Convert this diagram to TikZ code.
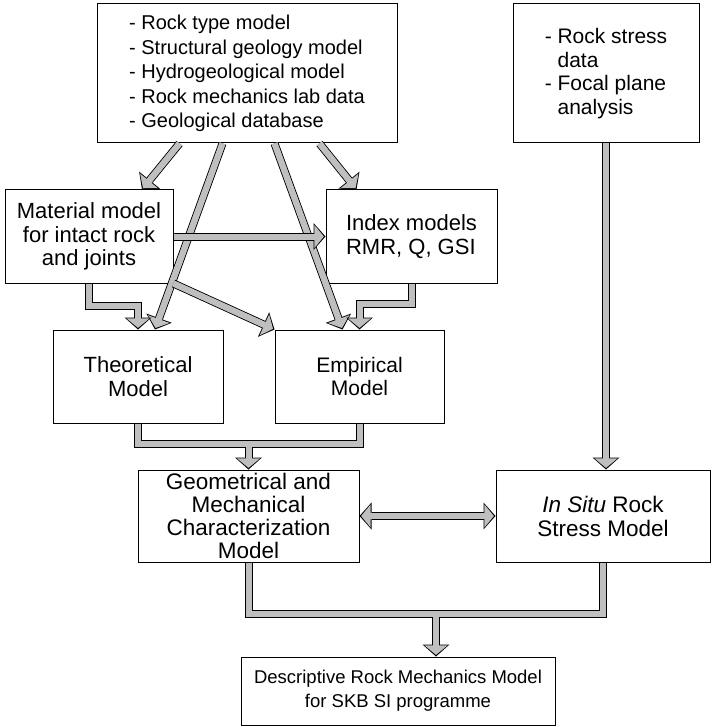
\documentclass[tikz,border=0pt]{standalone}
\usepackage{fontspec}
\setmainfont{Liberation Sans}
\usetikzlibrary{arrows.meta}
\definecolor{arrowgray}{gray}{0.75}

\tikzset{
  box/.style={draw, line width=1pt, inner sep=0pt, align=center,
    font=\fontsize{21}{23.5}\selectfont},
  fatline/.style={draw=arrowgray, line width=6pt,
    preaction={draw=black, line width=8pt}},
  fatarrow/.style={draw=arrowgray, line width=6pt, shorten >=1.6pt,
    -{Triangle[length=9.5pt,width=23pt,line width=0pt]},
    preaction={draw=black, line width=8pt, shorten >=0pt,
      -{Triangle[length=12pt,width=27pt,line width=0pt]}},
    postaction={draw=arrowgray, line width=6pt, -, shorten >=10pt}},
  fatboth/.style={draw=arrowgray, line width=6pt, shorten >=1.6pt, shorten <=1.6pt,
    {Triangle[length=9.5pt,width=23pt,line width=0pt]}-{Triangle[length=9.5pt,width=23pt,line width=0pt]},
    preaction={draw=black, line width=8pt, shorten >=0pt, shorten <=0pt,
      {Triangle[length=12pt,width=27pt,line width=0pt]}-{Triangle[length=12pt,width=27pt,line width=0pt]}},
    postaction={draw=arrowgray, line width=6pt, -, shorten >=10pt, shorten <=10pt}}
}

\begin{document}
\begin{tikzpicture}[x=1pt,y=-1pt,line join=miter]
\useasboundingbox (0,0) rectangle (717,727);

% boxes
\node[box, align=left, minimum width=300pt, minimum height=139pt,
  font=\fontsize{20}{24.5}\selectfont] (src) at (247,73.5)
  {- Rock type model\\- Structural geology model\\- Hydrogeological model\\- Rock mechanics lab data\\- Geological database};
\node[box, align=left, minimum width=186pt, minimum height=139pt] (stress) at (606,73.5)
  {- Rock stress\\\hphantom{- }data\\- Focal plane\\\hphantom{- }analysis};
\node[box, minimum width=168pt, minimum height=93pt, font=\fontsize{22}{23.5}\selectfont] (mat) at (89,236.5)
  {Material model\\for intact rock\\and joints};
\node[box, align=left, minimum width=171pt, minimum height=93pt, font=\fontsize{22}{24}\selectfont] (idx) at (411.5,236.5)
  {Index models\\RMR, Q, GSI};
\node[box, minimum width=170pt, minimum height=93pt, font=\fontsize{22}{23.5}\selectfont] (theo) at (138,376.5)
  {Theoretical\\Model};
\node[box, minimum width=169pt, minimum height=93pt] (emp) at (359.5,376.5)
  {Empirical\\Model};
\node[box, minimum width=221pt, minimum height=92pt, font=\fontsize{22.5}{23}\selectfont] (geo) at (248.5,516)
  {Geometrical and\\Mechanical\\Characterization\\Model};
\node[box, minimum width=214pt, minimum height=92pt, font=\fontsize{22.5}{24}\selectfont] (insitu) at (603,516)
  {\textit{In Situ} Rock\\Stress Model};
\node[box, minimum width=314pt, minimum height=68pt, font=\fontsize{18.5}{24}\selectfont] (desc) at (398,691)
  {Descriptive Rock Mechanics Model\\for SKB SI programme};

% arrows from the data box
\draw[fatarrow] ([xshift=83]src.south west) -- ([xshift=53]mat.north);
\draw[fatarrow] ([xshift=126]src.south west) -- ([xshift=17]theo.north);
\draw[fatarrow] ([xshift=178]src.south west) -- ([xshift=-17]emp.north);
\draw[fatarrow] ([xshift=223]src.south west) -- ([xshift=-55]idx.north);
\draw[fatarrow] (mat.south east) -- (emp.north west);
\draw[fatarrow] (mat.east) -- (idx.west);
\draw[fatarrow] (mat.south) -- ++(0,22) -| (theo.north);
\draw[fatarrow] (idx.south) -- ++(0,20) -| (emp.north);
\draw[fatarrow] (stress.south) -- (stress.south |- insitu.north);

% merging into the characterization model
\coordinate (j1) at ([yshift=-20]theo.south);
\draw[fatarrow] (theo.south) -- (j1) -| (emp.south) (geo.north |- j1) -- (geo.north);
\draw[fatboth] (geo.east) -- (insitu.west);

% merging into the descriptive model
\coordinate (j2) at ([yshift=-51]geo.south);
\draw[fatarrow] (geo.south) -- (j2) -| (insitu.south) ([xshift=38]desc.north |- j2) -- ([xshift=38]desc.north);
\end{tikzpicture}
\end{document}
